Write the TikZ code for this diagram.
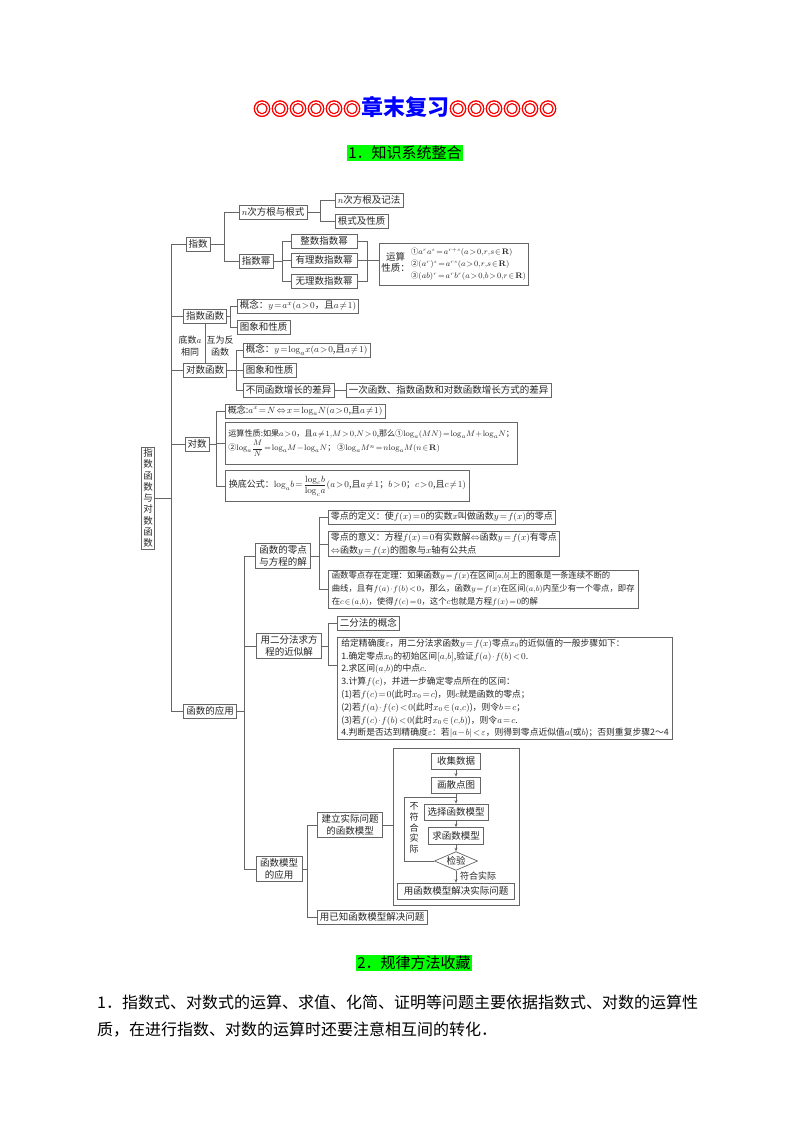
\documentclass[tikz,border=0pt]{standalone}
\usepackage{amsmath,amssymb}
\usepackage[no-math]{fontspec}
\setmainfont{Noto Sans CJK SC}
\newfontfamily\ringfont[FakeBold=3]{Noto Sans CJK SC}
\usetikzlibrary{arrows.meta,shapes.geometric}
\thickmuskip=2mu
\medmuskip=1.2mu
\newcommand\mlog{\mathrm{log}}
\newcommand\fs{\fontsize{9.5}{11.5}\selectfont}
\newcommand\fsm{\fontsize{9}{12.6}\selectfont}
\newcommand\fsx{\fontsize{7.6}{12}\selectfont}
\colorlet{ink}{black!85}
\colorlet{edge}{black!60}
\tikzset{
  bx/.style={draw=edge, line width=0.7pt, fill=white, text=ink, font=\fs, inner xsep=2.5pt, inner ysep=1.5pt, minimum height=14pt},
  bxl/.style={bx, font=\fsm, align=left, anchor=west},
  bx2/.style={bx, align=center, inner xsep=4pt, inner ysep=2.5pt},
  ln/.style={draw=edge, line width=0.7pt},
  arr/.style={ln, -{Stealth[length=3.5pt,width=3pt]}},
  lbl/.style={text=ink, font=\fsm, align=center, inner sep=0pt},
}
\newcommand\mybr[4]{\draw[ln] (#3.west) -- (#3.west -| #2) -- (#4.west -| #2) -- (#4.west); \draw[ln] (#1.east) -- (#1.east -| #2);}
\newcommand\mymid[2]{\draw[ln] (#2.west) -- (#2.west -| #1);}
\begin{document}
\begin{tikzpicture}[x=1pt,y=-1pt]
\useasboundingbox[fill=white] (0,0) rectangle (800,1132);
% headings
\node[inner sep=0pt] (title) at (405,107) {\textcolor{red}{\ringfont\fontsize{18}{20}\selectfont ◎◎◎◎◎◎}\textcolor{blue}{\fontsize{22}{24}\selectfont\bfseries 章末复习}\textcolor{red}{\ringfont\fontsize{18}{20}\selectfont ◎◎◎◎◎◎}};
\node[fill=green, font=\fontsize{15}{18}\selectfont, inner sep=1pt] (h1) at (405,153) {1．知识系统整合};
\node[fill=green, font=\fontsize{15}{18}\selectfont, inner sep=1pt] (h2) at (414,963) {2．规律方法收藏};
\node[anchor=west, font=\fontsize{16}{20}\selectfont, inner sep=0pt] (p1) at (97,1002) {1．指数式、对数式的运算、求值、化简、证明等问题主要依据指数式、对数的运算性};
\node[anchor=west, font=\fontsize{16}{20}\selectfont, inner sep=0pt] (p2) at (97,1030) {质，在进行指数、对数的运算时还要注意相互间的转化．};
% bracket x positions
\coordinate (c1) at (171,0);
\coordinate (c2) at (224,0);
\coordinate (c3) at (320,0);
\coordinate (c4) at (282,0);
\coordinate (c5) at (367,0);
\coordinate (c6) at (230,0);
\coordinate (c7) at (236,0);
\coordinate (c8) at (216,0);
\coordinate (c9) at (244,0);
\coordinate (c10) at (319,0);
\coordinate (c11) at (328,0);
\coordinate (c12) at (307,0);
% root
\node[bx, align=center, inner xsep=2pt, font=\fontsize{9.5}{11.3}\selectfont] (root) at (148,498) {指\\数\\函\\数\\与\\对\\数\\函\\数};
% 指数
\node[bx] (zs) at (198,244) {指数};
\node[bx,anchor=west] (ncg) at (239,212) {$n$次方根与根式};
\node[bx,anchor=west] (zsm) at (239,261) {指数幂};
\node[bx,anchor=west] (ncj) at (335,200) {$n$次方根及记法};
\node[bx,anchor=west] (gs) at (335,221) {根式及性质};
\node[bx,minimum width=66pt] (zz) at (324,241) {整数指数幂};
\node[bx,minimum width=66pt] (yl) at (324,260) {有理数指数幂};
\node[bx,minimum width=66pt] (wl) at (324,281) {无理数指数幂};
\node[bx,anchor=west,inner sep=2pt,minimum height=42pt] (ys) at (379,264) {\begin{tabular}{@{}c@{}}运算\\性质：\end{tabular}\hspace{1pt}{\fsx\begin{tabular}{@{}l@{}}①$a^ra^s=a^{r+s}(a>0{,}r{,}s\in\mathbf{R})$\\②$(a^r)^s=a^{rs}(a>0{,}r{,}s\in\mathbf{R})$\\③$(ab)^r=a^rb^r(a>0{,}b>0{,}r\in\mathbf{R})$\end{tabular}}};
% 指数函数 / 对数函数
\node[bx] (zshs) at (205,316) {指数函数};
\node[bx,anchor=west] (gn1) at (237,306) {概念：$y=a^x(a>0$，且$a\neq1)$};
\node[bx,anchor=west] (tx1) at (237,327) {图象和性质};
\node[lbl] (l1) at (190,346) {底数$a$\\相同};
\node[lbl] (l2) at (220,346) {互为反\\函数};
\node[bx] (dshs) at (205,370) {对数函数};
\node[bx,anchor=west] (gn2) at (243,350) {概念：$y=\mlog_ax(a>0$,且$a\neq1)$};
\node[bx,anchor=west] (tx2) at (243,370) {图象和性质};
\node[bx,anchor=west] (bt) at (243,390) {不同函数增长的差异};
\node[bx,anchor=west] (yc) at (346,390) {一次函数、指数函数和对数函数增长方式的差异};
% 对数
\node[bx] (ds) at (197,444) {对数};
\node[bxl] (gn3) at (225,411) {概念:$a^x=N\Leftrightarrow x=\mlog_aN(a>0$,且$a\neq1)$};
\node[bxl,anchor=north west,font=\fontsize{8.1}{13}\selectfont,minimum height=42pt,inner xsep=3pt] (ysx) at (225,422) {运算性质:如果$a>0$，且$a\neq1{,}M>0{,}N>0$,那么①$\mlog_a(MN)=\mlog_aM+\mlog_aN$；\\②$\mlog_a\dfrac{M}{N}=\mlog_aM-\mlog_aN$；\ ③$\mlog_aM^n=n\mlog_aM(n\in\mathbf{R})$};
\node[bxl,minimum height=31pt,inner xsep=3.5pt] (hd) at (225,486) {换底公式：$\mlog_ab=\dfrac{\mlog_cb}{\mlog_ca}(a>0$,且$a\neq1$；$b>0$；$c>0$,且$c\neq1)$};
% 函数的应用
\node[bx] (yy) at (210,711) {函数的应用};
\node[bx2] (lz) at (283,556) {函数的零点\\与方程的解};
\node[bxl] (dy) at (328,517) {零点的定义：使$f(x)=0$的实数$x$叫做函数$y=f(x)$的零点};
\node[bxl] (yi) at (328,544) {零点的意义：方程$f(x)=0$有实数解$\Leftrightarrow$函数$y=f(x)$有零点\\$\Leftrightarrow$函数$y=f(x)$的图象与$x$轴有公共点};
\node[bxl,font=\fontsize{8.35}{13}\selectfont,inner xsep=3.5pt] (cz) at (328,589) {函数零点存在定理：如果函数$y=f(x)$在区间$[a{,}b]$上的图象是一条连续不断的\\曲线，且有$f(a)\cdot f(b)<0$，那么，函数$y=f(x)$在区间$(a{,}b)$内至少有一个零点，即存\\在$c\in(a{,}b)$，使得$f(c)=0$，这个$c$也就是方程$f(x)=0$的解};
\node[bx2] (ef) at (289,646) {用二分法求方\\程的近似解};
\node[bx,anchor=west] (gn4) at (337,623) {二分法的概念};
\node[bxl,anchor=north west,font=\fontsize{8.8}{12.8}\selectfont,inner xsep=4pt] (bz) at (337,637) {给定精确度$\varepsilon$，用二分法求函数$y=f(x)$零点$x_0$的近似值的一般步骤如下：\\1.确定零点$x_0$的初始区间$[a{,}b]$,验证$f(a)\cdot f(b)<0$.\\2.求区间$(a{,}b)$的中点$c$.\\3.计算$f(c)$，并进一步确定零点所在的区间：\\(1)若$f(c)=0$(此时$x_0=c$)，则$c$就是函数的零点；\\(2)若$f(a)\cdot f(c)<0$(此时$x_0\in(a{,}c)$)，则令$b=c$；\\(3)若$f(c)\cdot f(b)<0$(此时$x_0\in(c{,}b)$)，则令$a=c$.\\4.判断是否达到精确度$\varepsilon$：若$|a-b|<\varepsilon$，则得到零点近似值$a$(或$b$)；否则重复步骤2～4};
\coordinate (bzc) at ([yshift=-28pt]bz.north west);
\node[bx2] (mx) at (279,869) {函数模型\\的应用};
\node[bx2] (jl) at (350,825) {建立实际问题\\的函数模型};
\node[bx,anchor=west] (yz) at (317,917) {用已知函数模型解决问题};
% flowchart
\node[bx, fill=none, minimum width=126pt, minimum height=157pt] (fc) at (456,826.5) {};
\node[bx,minimum width=49pt,minimum height=16pt] (sj) at (456,761) {收集数据};
\node[bx,minimum width=49pt,minimum height=16pt] (hs) at (456,785) {画散点图};
\node[bx,minimum height=16pt,inner xsep=3.5pt] (xz) at (456,812) {选择函数模型};
\node[bx,minimum height=17pt,inner xsep=3.5pt] (qh) at (456,836) {求函数模型};
\node[bx,diamond,aspect=2.3,inner sep=0.6pt,minimum height=0pt] (jy) at (456,861) {检验};
\node[bx,minimum height=16pt,inner xsep=6pt] (yf) at (456,891) {用函数模型解决实际问题};
\node[lbl,font=\fontsize{9}{10.6}\selectfont] (bf) at (414,828) {不\\符\\合\\实\\际};
\node[lbl,anchor=west] (fh) at (460,876) {符合实际};
\coordinate (lp) at (404,797);
% connectors
\mybr{root}{c1}{zs}{yy}
\mymid{c1}{zshs}
\mymid{c1}{dshs}
\mymid{c1}{ds}
\mybr{zs}{c2}{ncg}{zsm}
\mybr{ncg}{c3}{ncj}{gs}
\mybr{zsm}{c4}{zz}{wl}
\mymid{c4}{yl}
\draw[ln] (zz.east) -- (zz.east -| c5) -- (wl.east -| c5) -- (wl.east);
\draw[ln] (yl.east) -- (yl.east -| ys.west);
\mybr{zshs}{c6}{gn1}{tx1}
\draw[ln] (zshs.south) -- (dshs.north);
\mybr{dshs}{c7}{gn2}{bt}
\mymid{c7}{tx2}
\draw[ln] (bt.east) -- (yc.west);
\mybr{ds}{c8}{gn3}{hd}
\mymid{c8}{ysx}
\mybr{yy}{c9}{lz}{mx}
\mymid{c9}{ef}
\mybr{lz}{c10}{dy}{cz}
\mymid{c10}{yi}
\draw[ln] (gn4.west) -- (gn4.west -| c11) -- (bzc -| c11) -- (bzc);
\draw[ln] (ef.east) -- (ef.east -| c11);
\mybr{mx}{c12}{jl}{yz}
\draw[ln] (jl.east) -- (jl.east -| fc.west);
\draw[arr] (sj.south) -- (hs.north);
\draw[arr] (hs.south) -- (xz.north);
\draw[arr] (xz.south) -- (qh.north);
\draw[arr] (qh.south) -- (jy.north);
\draw[arr] (jy.south) -- (yf.north);
\draw[ln] (jy.west) -| (lp) -- (lp -| hs.south);
\end{tikzpicture}
\end{document}
